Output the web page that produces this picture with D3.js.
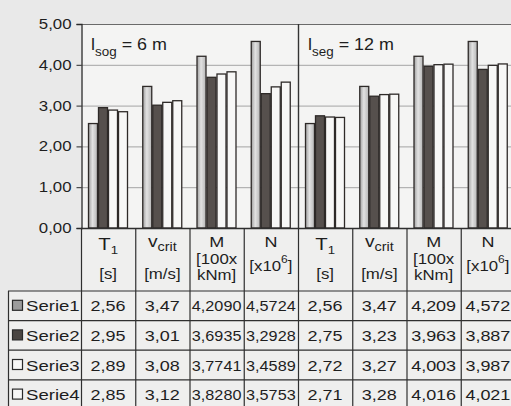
<!DOCTYPE html>
<html>
<head>
<meta charset="utf-8">
<script src="https://cdn.jsdelivr.net/npm/d3@7"></script>
<style>
  html, body { margin: 0; padding: 0; background: #e9e9e9; }
  svg { display: block; }
  text { font-family: "Liberation Sans", Arial, sans-serif; fill: #1e1e1e; }
</style>
</head>
<body>
<svg id="chart" width="511" height="406"></svg>
<script>
// Column categories (two panels of four quantities each)
const categories = ["T1_a", "vcrit_a", "M_a", "N_a", "T1_b", "vcrit_b", "M_b", "N_b"];
const seriesNames = ["Serie1", "Serie2", "Serie3", "Serie4"];

// Values as printed in the data table
const serie1Labels = ["2,56", "3,47", "4,2090", "4,5724", "2,56", "3,47", "4,209", "4,572"];
const serie2Labels = ["2,95", "3,01", "3,6935", "3,2928", "2,75", "3,23", "3,963", "3,887"];
const serie3Labels = ["2,89", "3,08", "3,7741", "3,4589", "2,72", "3,27", "4,003", "3,987"];
const serie4Labels = ["2,85", "3,12", "3,8280", "3,5753", "2,71", "3,28", "4,016", "4,021"];

const yTicks = [0, 1, 2, 3, 4, 5];
const panelTitles = [{ sub: "sog", rest: " = 6 m" }, { sub: "seg", rest: " = 12 m" }];

const labelRows = [serie1Labels, serie2Labels, serie3Labels, serie4Labels];
const toNum = s => +s.replace(",", ".");
const valueRows = labelRows.map(r => r.map(toNum));

const svg = d3.select("#chart");
const W = 511, H = 406;
const SX = 1.2; // horizontal stretch of lettering

const x = d3.scaleBand().domain(categories).range([81, 81 + 8 * 54.25]);
const y = d3.scaleLinear().domain([0, 5]).range([228, 24]);
const inner = d3.scaleBand().domain(seriesNames).range([7, 47]).padding(0);

// plot background
svg.append("rect").attr("x", 81).attr("y", y(5)).attr("width", W - 81).attr("height", y(0) - y(5))
  .attr("fill", "#f4f4f3");

// table background
svg.append("rect").attr("x", 81).attr("y", 228).attr("width", W - 81).attr("height", H - 228).attr("fill", "#efefee");
svg.append("rect").attr("x", 8).attr("y", 291).attr("width", 73).attr("height", H - 291).attr("fill", "#efefee");

// grid lines
svg.append("g").selectAll("line").data(yTicks.filter(d => d > 0)).join("line")
  .attr("x1", 81).attr("x2", W).attr("y1", d => y(d) + 0.5).attr("y2", d => y(d) + 0.5)
  .attr("stroke", d => d === 5 ? "#6a6a6a" : "#a4a4a4").attr("stroke-width", 1);

// bar gradient for Serie1
const defs = svg.append("defs");
const grad = defs.append("linearGradient").attr("id", "g1").attr("x1", "0").attr("x2", "1");
grad.append("stop").attr("offset", "0").attr("stop-color", "#9f9f9f");
grad.append("stop").attr("offset", "0.45").attr("stop-color", "#e2e2e2");
grad.append("stop").attr("offset", "1").attr("stop-color", "#b5b5b5");
defs.append("clipPath").attr("id", "legclip").append("rect")
  .attr("x", 8).attr("y", 280).attr("width", 72).attr("height", 130);

const fills = ["url(#g1)", "#56504d", "#f7f7f6", "#f7f7f6"];

// bars
const bars = svg.append("g");
seriesNames.forEach((s, si) => {
  bars.append("g").selectAll("rect").data(valueRows[si]).join("rect")
    .attr("x", (d, i) => x(categories[i]) + inner(s) + 0.5)
    .attr("width", inner.bandwidth() - 1)
    .attr("y", d => y(d))
    .attr("height", d => y(0) - y(d))
    .attr("fill", fills[si])
    .attr("stroke", "#2e2a28")
    .attr("stroke-width", 1.3);
});

// panel divider
svg.append("line").attr("x1", x(categories[4]) + 0.5).attr("x2", x(categories[4]) + 0.5)
  .attr("y1", y(5)).attr("y2", y(0)).attr("stroke", "#333").attr("stroke-width", 1.4);

// y axis
const yAxis = svg.append("g").attr("transform", "translate(81.5,0)")
  .call(d3.axisLeft(y).tickValues(yTicks).tickSize(5).tickPadding(5)
    .tickFormat(d => d.toFixed(2).replace(".", ",")));
yAxis.select(".domain").attr("stroke", "#2a2a2a").attr("stroke-width", 1.3);
yAxis.selectAll(".tick line").attr("stroke", "#2a2a2a");
yAxis.selectAll(".tick text").attr("font-size", 14).attr("fill", "#1e1e1e")
  .attr("font-family", "'Liberation Sans', Arial, sans-serif")
  .attr("x", -10 / SX).attr("transform", `scale(${SX},1)`);

// stretched text helper
function label(parent, px, py, anchor, size, sx) {
  return parent.append("g").attr("transform", `translate(${px},${py}) scale(${sx || SX},1)`)
    .append("text").attr("text-anchor", anchor).attr("font-size", size);
}

// panel titles
panelTitles.forEach((p, i) => {
  const t = label(svg, x(categories[i * 4]) + 10, 50, "start", 16, 1.12);
  t.append("tspan").text("l");
  t.append("tspan").attr("dy", 6).attr("font-size", 12).text(p.sub);
  t.append("tspan").attr("dy", -6).text(p.rest);
});

// table grid
const rowTop = 291, rowH = 29.6;
const tg = svg.append("g").attr("stroke", "#2f2f2f").attr("stroke-width", 1.2).attr("fill", "none");
tg.append("line").attr("x1", 81).attr("x2", W).attr("y1", 228.5).attr("y2", 228.5).attr("stroke-width", 1.4);
for (let r = 0; r < 4; r++) {
  tg.append("line").attr("x1", 8).attr("x2", W).attr("y1", rowTop + r * rowH).attr("y2", rowTop + r * rowH);
}
tg.append("line").attr("x1", 8.5).attr("x2", 8.5).attr("y1", rowTop).attr("y2", H);
categories.forEach(c => {
  tg.append("line").attr("x1", x(c) + 0.5).attr("x2", x(c) + 0.5).attr("y1", 228).attr("y2", H);
});

// column headers
const hdr = svg.append("g");
categories.forEach((c, i) => {
  const cx = x(c) + x.bandwidth() / 2;
  const k = i % 4;
  if (k === 0) {
    const t = label(hdr, cx, 250, "middle", 17);
    t.append("tspan").text("T");
    t.append("tspan").attr("dy", 4).attr("font-size", 11).text("1");
    label(hdr, cx, 279, "middle", 14).text("[s]");
  } else if (k === 1) {
    const t = label(hdr, cx, 247, "middle", 16);
    t.append("tspan").text("v");
    t.append("tspan").attr("dy", 4).attr("font-size", 12).text("crit");
    label(hdr, cx, 279, "middle", 14).text("[m/s]");
  } else if (k === 2) {
    label(hdr, cx, 247, "middle", 15).text("M");
    label(hdr, cx, 264, "middle", 14).text("[100x");
    label(hdr, cx, 280, "middle", 14).text("kNm]");
  } else {
    label(hdr, cx, 247, "middle", 15).text("N");
    const t = label(hdr, cx, 271, "middle", 14);
    t.append("tspan").text("[x10");
    t.append("tspan").attr("dy", -8).attr("font-size", 10).text("6");
    t.append("tspan").attr("dy", 8).text("]");
  }
});

// legend column
const leg = svg.append("g").attr("clip-path", "url(#legclip)");
const legFills = ["#9c9c9c", "#4a4542", "#f7f7f6", "#f7f7f6"];
seriesNames.forEach((s, si) => {
  const cy = rowTop + si * rowH + rowH / 2;
  leg.append("rect").attr("x", 12.5).attr("y", cy - 5.5).attr("width", 10).attr("height", 10)
    .attr("fill", legFills[si]).attr("stroke", "#2a2a2a").attr("stroke-width", 1.2);
  label(leg, 26, cy + 5.5, "start", 15, 1.24).text(s);
});

// table values
const vals = svg.append("g");
labelRows.forEach((row, si) => {
  const cy = rowTop + si * rowH + rowH / 2;
  row.forEach((txt, i) => {
    const cx = x(categories[i]) + x.bandwidth() / 2;
    label(vals, cx, cy + 5.5, "middle", 15, txt.length > 5 ? 1.08 : SX).text(txt);
  });
});
</script>
</body>
</html>
